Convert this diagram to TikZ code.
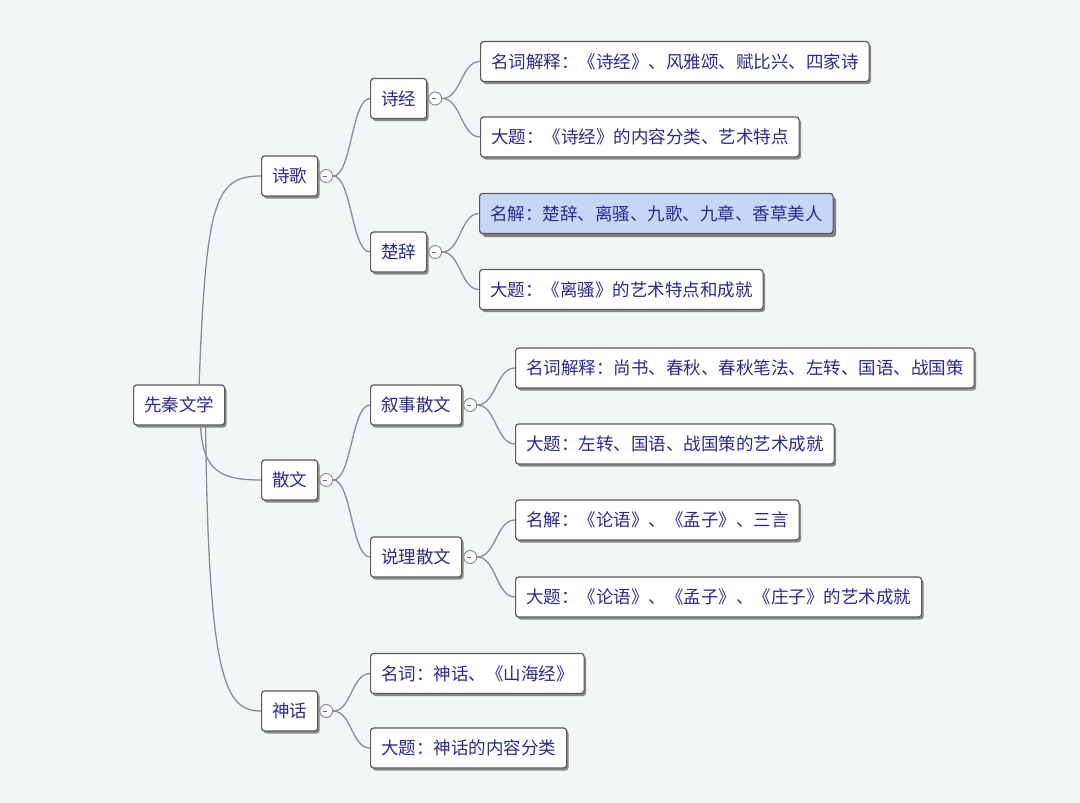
\documentclass[tikz,border=0pt]{standalone}
\usepackage{fontspec}
\newfontfamily\cjk{Noto Sans CJK SC}
\usetikzlibrary{shadows,calc}
\definecolor{bg}{RGB}{243,246,247}
\definecolor{txt}{RGB}{42,42,140}
\definecolor{bord}{RGB}{90,90,90}
\definecolor{conncol}{RGB}{140,140,150}
\definecolor{hl}{RGB}{198,214,248}
\newcommand\mmlink[2]{\draw[conn] let \p1=(#1.east), \p2=(#2.west) in (\p1) .. controls ({(\x1+\x2)/2},\y1) and ({(\x1+\x2)/2},\y2) .. (\p2);}
\begin{document}
\begin{tikzpicture}[x=1pt,y=-1pt,
  nbox/.style={draw=bord, line width=1.2pt, fill=white, rounded corners=3pt,
    minimum height=40pt, inner xsep=10.5pt, inner ysep=0pt,
    text height=14.5pt, text depth=1.5pt,
    text=txt, font=\cjk\fontsize{17.5}{20}\selectfont, anchor=west},
  box/.style={nbox, drop shadow={shadow xshift=2pt, shadow yshift=-2.5pt, opacity=0.75, fill=black!60}},
  hlbox/.style={nbox, fill=hl, draw=black!65, drop shadow={shadow xshift=3pt, shadow yshift=-3.5pt, opacity=0.75, fill=black!65}},
  toggle/.style={circle, draw=conncol, fill=white, line width=1pt, minimum size=13pt, inner sep=0pt, anchor=west,
    path picture={\draw[line width=0.8pt, black!60] ([xshift=-3pt]path picture bounding box.center) -- ([xshift=1pt]path picture bounding box.center);}},
  conn/.style={draw=conncol, line width=1.3pt}
]
\fill[bg] (0,0) rectangle (1080,803);
\useasboundingbox (0,0) rectangle (1080,803);

% main nodes
\node[box] (root) at (133,405) {先秦文学};
\node[box] (sg) at (261,176) {诗歌};
\node[box] (sw) at (261,480) {散文};
\node[box] (sh) at (261,711) {神话};
\node[box] (sj) at (370,98.5) {诗经};
\node[box] (cc) at (370,252) {楚辞};
\node[box] (xs) at (370,405) {叙事散文};
\node[box] (sl) at (370,557) {说理散文};

% leaves
\node[box] (a1) at (480,61.5) {名词解释：《诗经》、风雅颂、赋比兴、四家诗};
\node[box] (a2) at (480,137) {大题：《诗经》的内容分类、艺术特点};
\node[hlbox] (a3) at (479,213.5) {名解：楚辞、离骚、九歌、九章、香草美人};
\node[box] (a4) at (479,289.5) {大题：《离骚》的艺术特点和成就};
\node[box] (a5) at (515,368) {名词解释：尚书、春秋、春秋笔法、左转、国语、战国策};
\node[box] (a6) at (515,444) {大题：左转、国语、战国策的艺术成就};
\node[box] (a7) at (515,520) {名解：《论语》、《孟子》、三言};
\node[box] (a8) at (515,597) {大题：《论语》、《孟子》、《庄子》的艺术成就};
\node[box] (a9) at (370,673.5) {名词：神话、《山海经》};
\node[box] (a10) at (370,748) {大题：神话的内容分类};

% toggles
\node[toggle] (tsg) at ([xshift=1pt]sg.east) {};
\node[toggle] (tsw) at ([xshift=1pt]sw.east) {};
\node[toggle] (tsh) at ([xshift=1pt]sh.east) {};
\node[toggle] (tsj) at ([xshift=1pt]sj.east) {};
\node[toggle] (tcc) at ([xshift=1pt]cc.east) {};
\node[toggle] (txs) at ([xshift=1pt]xs.east) {};
\node[toggle] (tsl) at ([xshift=1pt]sl.east) {};

% root connectors
\draw[conn] ([xshift=20pt]root.north) .. controls +(7,-184) and +(-46,0) .. (sg.west);
\draw[conn] ([xshift=21.5pt]root.south) .. controls +(2,45) and +(-41,0) .. (sw.west);
\draw[conn] ([xshift=26.5pt]root.south) .. controls +(3,255) and +(-36,0) .. (sh.west);

% other connectors
\mmlink{tsg}{sj}
\mmlink{tsg}{cc}
\mmlink{tsw}{xs}
\mmlink{tsw}{sl}
\mmlink{tsh}{a9}
\mmlink{tsh}{a10}
\mmlink{tsj}{a1}
\mmlink{tsj}{a2}
\mmlink{tcc}{a3}
\mmlink{tcc}{a4}
\mmlink{txs}{a5}
\mmlink{txs}{a6}
\mmlink{tsl}{a7}
\mmlink{tsl}{a8}
\end{tikzpicture}
\end{document}
